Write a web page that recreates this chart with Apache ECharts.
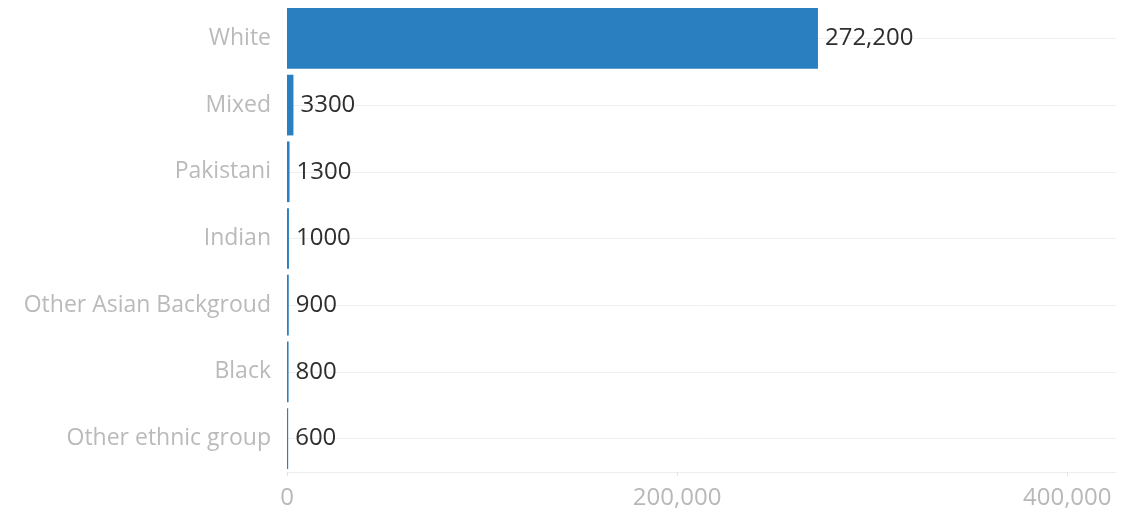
<!DOCTYPE html>
<html>
<head>
<meta charset="utf-8">
<script src="https://cdn.jsdelivr.net/npm/echarts@6/dist/echarts.min.js"></script>
<style>
html,body{margin:0;padding:0;background:#fff;}
#chart{width:1143px;height:510px;}
</style>
</head>
<body>
<div id="chart"></div>
<script>
var categories = ["White", "Mixed", "Pakistani", "Indian", "Other Asian Backgroud", "Black", "Other ethnic group"];
var values = [272200, 3300, 1300, 1000, 900, 800, 600];
var xTicks = [0, 200000, 400000];

var chart = echarts.init(document.getElementById('chart'));
var fontFam = '"Open Sans", "Noto Sans", sans-serif';
chart.setOption({
  animation: false,
  grid: {left: 287, right: 27, top: 5, bottom: 37, containLabel: false},
  xAxis: {
    type: 'value',
    min: 0,
    max: 425000,
    interval: 200000,
    splitLine: {show: false},
    axisLine: {show: true, lineStyle: {color: '#eeeeee', width: 1}},
    axisTick: {show: true, length: 4, lineStyle: {color: '#e4e4e4'}},
    axisLabel: {
      showMaxLabel: false,
      color: '#b8b8b8',
      fontSize: 24,
      fontFamily: fontFam,
      margin: 14,
      formatter: function (v) {
        return xTicks.indexOf(v) >= 0 ? v.toLocaleString('en-US') : '';
      }
    }
  },
  yAxis: {
    type: 'category',
    data: categories,
    inverse: true,
    axisLine: {show: false},
    axisTick: {show: false},
    splitLine: {show: false},
    axisLabel: {color: '#bababa', fontSize: 23, fontFamily: fontFam, margin: 16}
  },
  series: [{
    type: 'bar',
    data: values,
    z: 2,
    barCategoryGap: '9%',
    itemStyle: {color: '#2a7fc1'},
    label: {
      show: true,
      position: 'right',
      distance: 7,
      color: '#2e2e2e',
      fontSize: 24,
      fontFamily: fontFam,
      formatter: function (p) {
        return p.value >= 10000 ? p.value.toLocaleString('en-US') : String(p.value);
      }
    },
    markLine: {
      silent: true,
      z: 1,
      symbol: 'none',
      label: {show: false},
      lineStyle: {color: '#f0f0f0', type: 'solid', width: 1},
      data: categories.map(function (c) { return {yAxis: c}; })
    }
  }]
});
</script>
</body>
</html>
